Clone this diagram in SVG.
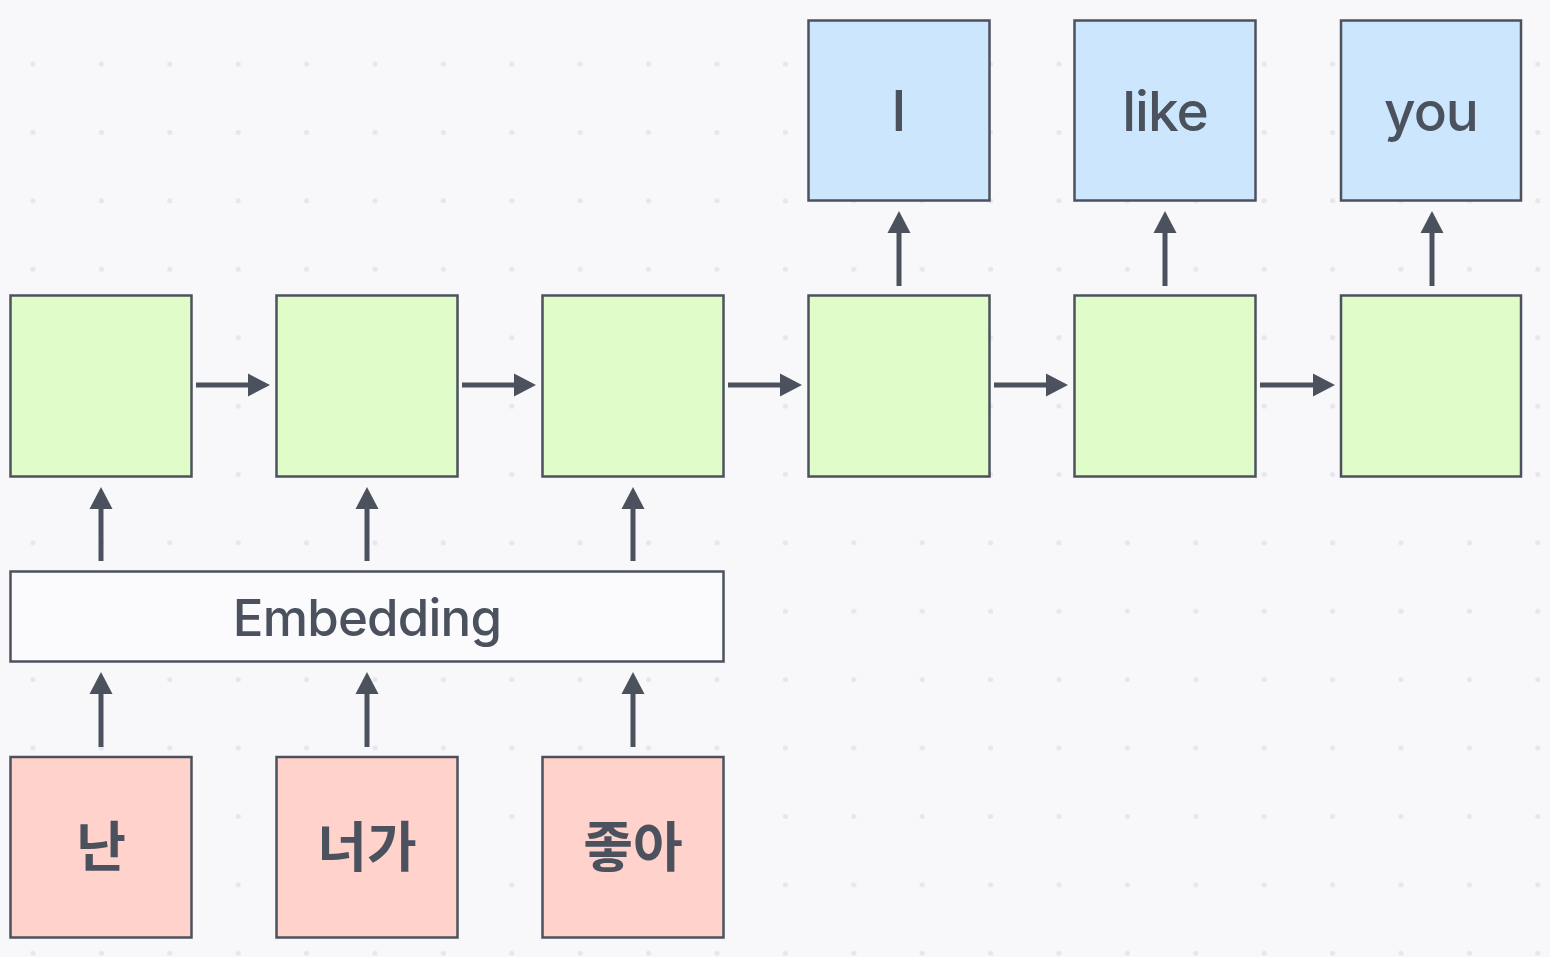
<svg xmlns="http://www.w3.org/2000/svg" width="1550" height="957" viewBox="0 0 1550 957">
<defs>
<pattern id="dots" patternUnits="userSpaceOnUse" x="-1.2" y="29.8" width="68.4" height="68.4">
<circle cx="34.2" cy="34.2" r="2.6" fill="#e6e7ee"/>
</pattern>
<marker id="ah" markerUnits="userSpaceOnUse" markerWidth="23" markerHeight="24" refX="0" refY="11.5" orient="auto" viewBox="0 0 23 23">
<path d="M0,0 L22,11.5 L0,23 z" fill="#4b525e"/>
</marker>
<style>
.bx{stroke:#4b525e;stroke-width:2.5}
.g{fill:#e0fcc8}
.b{fill:#cce7fd}
.p{fill:#ffd2cb}
.e{fill:#fbfbfe}
.t{font-family:Inter,"Noto Sans","Noto Sans CJK KR",sans-serif;fill:#4b525e;text-anchor:middle;font-weight:500}
.k{font-family:"Noto Sans CJK KR",sans-serif;fill:#4b525e;text-anchor:middle;font-weight:600}
.c line{stroke:#4b525e;stroke-width:5;marker-end:url(#ah)}
</style>
</defs>
<rect width="1550" height="957" fill="#f8f8fa"/>
<rect width="1550" height="957" fill="url(#dots)"/>
<g id="node-i"><rect class="bx b" x="808.5" y="20.5" width="181" height="180"/><text class="t" x="899" y="131" font-size="56">I</text></g>
<g id="node-like"><rect class="bx b" x="1074.5" y="20.5" width="181" height="180"/><text class="t" x="1165" y="131" font-size="55" letter-spacing="-1">like</text></g>
<g id="node-you"><rect class="bx b" x="1341" y="20.5" width="180" height="180"/><text class="t" x="1431" y="131" font-size="55" letter-spacing="-1">you</text></g>
<g id="h1"><rect class="bx g" x="10.5" y="295.5" width="181" height="181"/></g>
<g id="h2"><rect class="bx g" x="276.5" y="295.5" width="181" height="181"/></g>
<g id="h3"><rect class="bx g" x="542.5" y="295.5" width="181" height="181"/></g>
<g id="h4"><rect class="bx g" x="808.5" y="295.5" width="181" height="181"/></g>
<g id="h5"><rect class="bx g" x="1074.5" y="295.5" width="181" height="181"/></g>
<g id="h6"><rect class="bx g" x="1341" y="295.5" width="180" height="181"/></g>
<g id="embedding"><rect class="bx e" x="10.5" y="571.5" width="713" height="90"/><text class="t" x="367" y="636" font-size="51" letter-spacing="-0.8">Embedding</text></g>
<g id="w1"><rect class="bx p" x="10.5" y="757" width="181" height="180.5"/><text class="k" x="101" y="867" font-size="54">난</text></g>
<g id="w2"><rect class="bx p" x="276.5" y="757" width="181" height="180.5"/><text class="k" x="367" y="867" font-size="54">너가</text></g>
<g id="w3"><rect class="bx p" x="542.5" y="757" width="181" height="180.5"/><text class="k" x="633" y="867" font-size="54">좋아</text></g>
<g id="connectors" class="c">
<line x1="196" y1="385" x2="248" y2="385"/>
<line x1="462" y1="385" x2="514" y2="385"/>
<line x1="728" y1="385" x2="780" y2="385"/>
<line x1="994" y1="385" x2="1046" y2="385"/>
<line x1="1260" y1="385" x2="1313" y2="385"/>
<line x1="899" y1="286" x2="899" y2="233"/>
<line x1="1165" y1="286" x2="1165" y2="233"/>
<line x1="1432" y1="286" x2="1432" y2="233"/>
<line x1="101" y1="561" x2="101" y2="509"/>
<line x1="367" y1="561" x2="367" y2="509"/>
<line x1="633" y1="561" x2="633" y2="509"/>
<line x1="101" y1="747" x2="101" y2="694"/>
<line x1="367" y1="747" x2="367" y2="694"/>
<line x1="633" y1="747" x2="633" y2="694"/>
</g>
</svg>
